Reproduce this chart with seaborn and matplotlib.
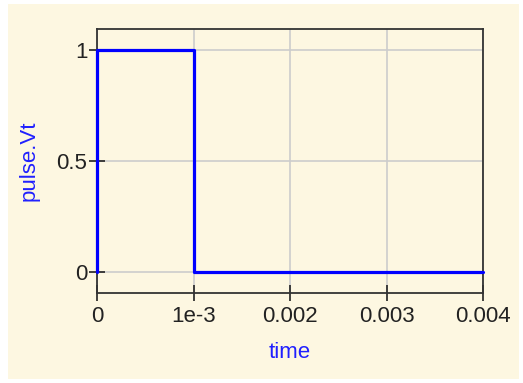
import matplotlib
matplotlib.use("Agg")
import matplotlib.pyplot as plt
import seaborn as sns
import pandas as pd
from matplotlib.patches import Rectangle

time = [0.0, 0.0, 0.001, 0.001, 0.004]
vt = [0.0, 1.0, 1.0, 0.0, 0.0]
xticks = [0, 0.001, 0.002, 0.003, 0.004]
xticklabels = ["0", "1e-3", "0.002", "0.003", "0.004"]
yticks = [0, 0.5, 1]
yticklabels = ["0", "0.5", "1"]

sns.set_theme(style="white")
plt.rcParams['font.family'] = ['Liberation Sans', 'DejaVu Sans']

cream = "#FDF7E1"
fig = plt.figure(figsize=(5.23, 3.83), dpi=100, facecolor="white")
fig.patches.append(Rectangle((8/523, 4/383), (519-8)/523, (379-4)/383,
                             transform=fig.transFigure, facecolor=cream,
                             edgecolor="none", zorder=-10))
ax = fig.add_axes([97/523, (383-293)/383, (483-97)/523, (293-29)/383])
ax.set_facecolor(cream)

df = pd.DataFrame({"time": time, "pulse.Vt": vt})
sns.lineplot(data=df, x="time", y="pulse.Vt", sort=False, estimator=None,
             color="#0000FF", linewidth=2.3, ax=ax, zorder=5, clip_on=False)

ax.set_xlim(0, 0.004)
ax.set_ylim(-0.095, 1.095)
ax.set_xticks(xticks)
ax.set_xticklabels(xticklabels)
ax.set_yticks(yticks)
ax.set_yticklabels(yticklabels)
ax.grid(True, color="#CCCCCC", linewidth=1.2)
ax.set_axisbelow(True)
for s in ax.spines.values():
    s.set_visible(True)
    s.set_color("#333333")
    s.set_linewidth(1.3)
ax.tick_params(axis="both", bottom=True, left=True, direction="inout",
               length=12, width=1.2,
               color="#222222", labelcolor="#222222", labelsize=16, pad=1)
ax.tick_params(axis="x", pad=3)
ax.set_xlabel("time", color="#2020FF", fontsize=16, labelpad=11)
ax.set_ylabel("pulse.Vt", color="#2020FF", fontsize=16, labelpad=12)

fig.savefig("out.png", dpi=100, facecolor="white")
